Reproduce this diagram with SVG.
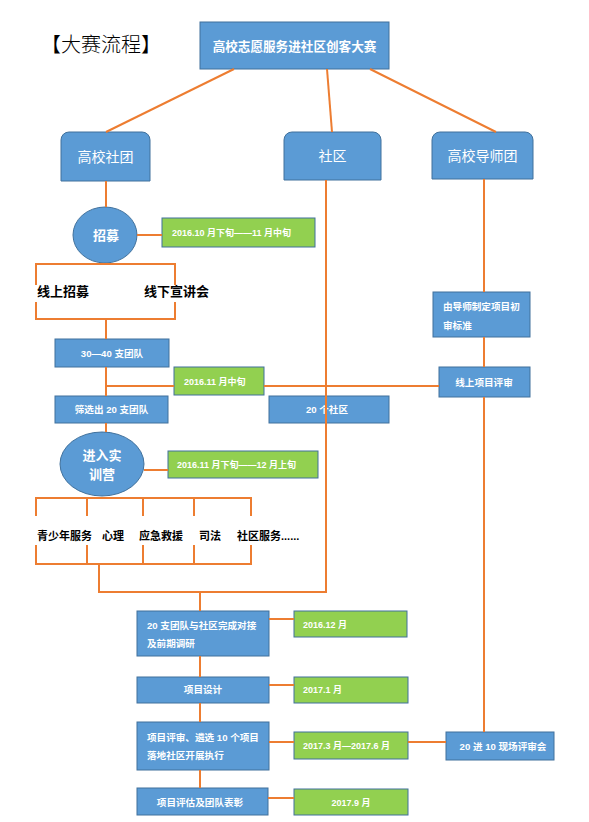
<svg xmlns="http://www.w3.org/2000/svg" width="589" height="822" viewBox="0 0 589 822">
<style>
.b{fill:#5B9BD5;stroke:#41719C;stroke-width:1}
.g{fill:#92D050;stroke:#41719C;stroke-width:1}
.t{font-family:"Liberation Sans","Noto Sans CJK SC",sans-serif;fill:#fff;font-weight:bold}
.s{font-size:9.6px}
.gt{font-size:9px}
.k{font-family:"Liberation Sans","Noto Sans CJK SC",sans-serif;fill:#000;font-weight:bold}
.c{stroke:#ED7D31;stroke-width:2;fill:none}
</style>
<rect width="589" height="822" fill="#fff"/>
<text x="41" y="52" font-family="'Noto Sans CJK SC',sans-serif" font-size="20" font-weight="300" fill="#000">【大赛流程】</text>
<g id="top"><rect class="b" x="200" y="22" width="189" height="47"/><text class="t" x="294.5" y="51" font-size="12.6" text-anchor="middle">高校志愿服务进社区创客大赛</text></g>
<g id="gxst"><path class="b" d="M61,181 V140 A8,8 0 0 1 69,132 H142 A8,8 0 0 1 150,140 V181 Z"/><text class="t" x="105.5" y="162" font-size="14" style="font-weight:normal" text-anchor="middle">高校社团</text></g>
<g id="sq"><path class="b" d="M284,180 V140 A8,8 0 0 1 292,132 H373 A8,8 0 0 1 381,140 V180 Z"/><text class="t" x="332.5" y="161" font-size="14" style="font-weight:normal" text-anchor="middle">社区</text></g>
<g id="dst"><path class="b" d="M432,179 V140 A8,8 0 0 1 440,132 H525 A8,8 0 0 1 533,140 V179 Z"/><text class="t" x="482.5" y="161" font-size="14" style="font-weight:normal" text-anchor="middle">高校导师团</text></g>
<g id="zm"><ellipse class="b" cx="105" cy="235" rx="32" ry="28"/><text class="t" x="106" y="240" font-size="13" text-anchor="middle">招募</text></g>
<g id="d1"><rect class="g" x="162" y="218" width="153" height="29"/><text class="t gt" x="172" y="236">2016.10 月下旬——11 月中旬</text></g>
<g id="l1"><text class="k" x="37" y="296" font-size="13">线上招募</text></g>
<g id="l2"><text class="k" x="144" y="296" font-size="13">线下宣讲会</text></g>
<g id="n3040"><rect class="b" x="55" y="339" width="114" height="28"/><text class="t s" x="112" y="357" text-anchor="middle">30—40 支团队</text></g>
<g id="d2"><rect class="g" x="174" y="367" width="90" height="28"/><text class="t gt" x="184" y="385">2016.11 月中旬</text></g>
<g id="sx"><rect class="b" x="55" y="396" width="113" height="27"/><text class="t s" x="111.5" y="413" text-anchor="middle">筛选出 20 支团队</text></g>
<g id="sq20"><rect class="b" x="269" y="396" width="120" height="27"/><text class="t s" x="327" y="413" text-anchor="middle">20 个社区</text></g>
<g id="bz"><rect class="b" x="433" y="292" width="97" height="45"/><text class="t s" x="443" y="310">由导师制定项目初</text><text class="t s" x="443" y="329">审标准</text></g>
<g id="xs"><rect class="b" x="439" y="367" width="91" height="30"/><text class="t s" x="484" y="386" text-anchor="middle">线上项目评审</text></g>
<g id="sxy"><ellipse class="b" cx="102" cy="464" rx="42" ry="32"/><text class="t" x="102" y="460" font-size="13" text-anchor="middle">进入实</text><text class="t" x="102" y="479" font-size="13" text-anchor="middle">训营</text></g>
<g id="d3"><rect class="g" x="168" y="451" width="150" height="27"/><text class="t gt" x="177" y="468">2016.11 月下旬——12 月上旬</text></g>
<g id="cats"><text class="k" x="37" y="540" font-size="11">青少年服务</text><text class="k" x="102" y="540" font-size="11">心理</text><text class="k" x="139" y="540" font-size="11">应急救援</text><text class="k" x="199" y="540" font-size="11">司法</text><text class="k" x="237" y="540" font-size="11">社区服务......</text></g>
<g id="dj"><rect class="b" x="137" y="611" width="132" height="45"/><text class="t s" x="147" y="629">20 支团队与社区完成对接</text><text class="t s" x="147" y="647">及前期调研</text></g>
<g id="d4"><rect class="g" x="294" y="611" width="113" height="26"/><text class="t gt" x="303" y="628">2016.12 月</text></g>
<g id="sj"><rect class="b" x="137" y="677" width="132" height="26"/><text class="t s" x="203" y="693" text-anchor="middle">项目设计</text></g>
<g id="d5"><rect class="g" x="294" y="677" width="114" height="26"/><text class="t gt" x="303" y="693">2017.1 月</text></g>
<g id="ps"><rect class="b" x="137" y="722" width="132" height="48"/><text class="t s" x="147" y="741">项目评审、遴选 10 个项目</text><text class="t s" x="147" y="759">落地社区开展执行</text></g>
<g id="d6"><rect class="g" x="294" y="732" width="114" height="27"/><text class="t gt" x="303" y="749">2017.3 月—2017.6 月</text></g>
<g id="pg"><rect class="b" x="137" y="788" width="131" height="27"/><text class="t s" x="200" y="806" text-anchor="middle">项目评估及团队表彰</text></g>
<g id="d7"><rect class="g" x="294" y="789" width="114" height="26"/><text class="t gt" x="351" y="806" text-anchor="middle">2017.9 月</text></g>
<g id="xc"><rect class="b" x="446" y="732" width="108" height="28"/><text class="t s" x="503" y="750" text-anchor="middle">20 进 10 现场评审会</text></g>
<g id="connectors" class="c">
<path class="c" d="M234,69 L106,132"/>
<path class="c" d="M327,69 L332,132"/>
<path class="c" d="M370,69 L496,132"/>
<path class="c" d="M106,181 V207"/>
<path class="c" d="M137,235 H162"/>
<path class="c" d="M36,285 V264 H175 V285 M36,302 V319 H175 V302"/>
<path class="c" d="M106,319 V339"/>
<path class="c" d="M106,367 V396"/>
<path class="c" d="M106,386 H174 M264,386 H439"/>
<path class="c" d="M106,423 V432"/>
<path class="c" d="M144,470 H168"/>
<path class="c" d="M36,516 V498 H251 V516 M87,498 V516 M143,498 V516 M194,498 V516"/>
<path class="c" d="M36,545 V564 H251 V545 M87,564 V545 M143,564 V545 M194,564 V545"/>
<path class="c" d="M99,564 V592 H326 V180"/>
<path class="c" d="M200,592 V611"/>
<path class="c" d="M269,619 H294"/>
<path class="c" d="M200,656 V677"/>
<path class="c" d="M269,685 H294"/>
<path class="c" d="M200,703 V722"/>
<path class="c" d="M269,742 H294"/>
<path class="c" d="M200,770 V788"/>
<path class="c" d="M268,798 H294"/>
<path class="c" d="M484,179 V292 M484,337 V367 M484,397 V732"/>
<path class="c" d="M408,742 H446"/>
</g>
</svg>
